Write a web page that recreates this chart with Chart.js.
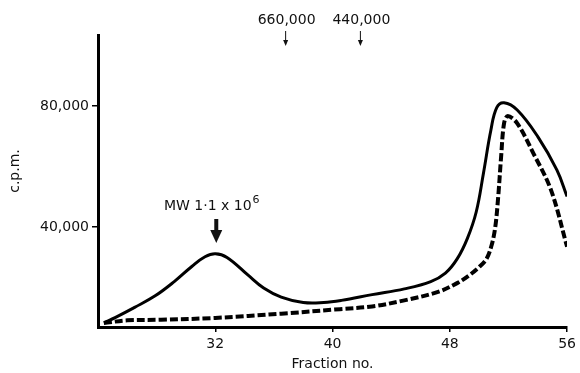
<!DOCTYPE html>
<html>
<head>
<meta charset="utf-8">
<script src="https://cdn.jsdelivr.net/npm/chart.js@4"></script>
<style>
  html, body { margin: 0; padding: 0; background: #fff; }
  #wrap { width: 580px; height: 373px; }
</style>
</head>
<body>
<div id="wrap"><canvas id="chart" width="580" height="373"></canvas></div>
<script>
// ---------- data ----------
const fractionsSolid = [24.4, 25.2, 26.5, 27.9, 29.2, 30.4, 31.3, 32, 32.8, 34.2, 35.3, 36.5, 38, 39.4, 40.6, 42.7, 44.9, 46.7, 47.7, 48.5, 49.2, 49.8, 50.3, 50.8, 51.2, 51.7, 52.6, 54, 55.3, 56];
const cpmSolid       = [8400, 10200, 13500, 17300, 22000, 27000, 30200, 31200, 30000, 24300, 19900, 16900, 15100, 15100, 15800, 17700, 19600, 22000, 24800, 29500, 36300, 45000, 58000, 72000, 79500, 81100, 78700, 69900, 58900, 50100];

const fractionsDashed = [24.4, 26, 28.3, 32, 36.5, 40.5, 42.7, 44.9, 47.2, 48.5, 49.3, 50, 50.5, 50.85, 51.1, 51.3, 51.5, 51.7, 51.95, 52.6, 53.7, 54.9, 56];
const cpmDashed       = [8300, 9200, 9400, 10000, 11400, 12900, 13800, 15800, 18600, 21500, 24000, 26800, 29500, 34000, 40000, 50000, 63300, 74300, 76700, 74300, 64400, 52300, 33500];

const xTickValues = [32, 40, 48, 56];
const yTickValues = [40000, 80000];

const markers = [
  { label: '660,000', fraction: 36.8 },
  { label: '440,000', fraction: 41.9 }
];

// ---------- helpers ----------
const FONT = '"DejaVu Sans", sans-serif';
const toPoints = (xs, ys) => xs.map((x, i) => ({ x: x, y: ys[i] }));

// annotations: MW arrow + marker arrows at top
const annotations = {
  id: 'annotations',
  afterDraw(chart) {
    const ctx = chart.ctx;
    const xs = chart.scales.x;
    ctx.save();
    ctx.fillStyle = '#111';
    ctx.strokeStyle = '#111';
    ctx.font = '14px ' + FONT;
    ctx.textBaseline = 'alphabetic';

    // MW 1·1 x 10^6 with thick arrow
    const px = xs.getPixelForValue(32) + 1;
    const main = 'MW 1\u00B71 x 10';
    const wMain = ctx.measureText(main).width;
    ctx.font = '11px ' + FONT;
    const wSup = ctx.measureText('6').width;
    const x0 = px - (wMain + wSup) / 2 - 5;
    ctx.font = '14px ' + FONT;
    ctx.textAlign = 'left';
    ctx.fillText(main, x0, 210);
    ctx.font = '11px ' + FONT;
    ctx.fillText('6', x0 + wMain + 1, 203);

    ctx.fillRect(px - 2, 219, 4, 13);
    ctx.beginPath();
    ctx.moveTo(px - 6, 230);
    ctx.lineTo(px + 6, 230);
    ctx.lineTo(px, 243);
    ctx.closePath();
    ctx.fill();

    // molecular weight markers
    ctx.font = '14px ' + FONT;
    ctx.textAlign = 'center';
    markers.forEach(m => {
      const mx = xs.getPixelForValue(m.fraction);
      ctx.fillText(m.label, mx + 1, 24);
      ctx.lineWidth = 1;
      ctx.beginPath();
      ctx.moveTo(mx, 31);
      ctx.lineTo(mx, 44);
      ctx.stroke();
      ctx.beginPath();
      ctx.moveTo(mx - 2.5, 40);
      ctx.lineTo(mx + 2.5, 40);
      ctx.lineTo(mx, 46);
      ctx.closePath();
      ctx.fill();
    });

    // y title, drawn a little above the axis centre like the original
    ctx.save();
    ctx.translate(15, 171);
    ctx.rotate(-Math.PI / 2);
    ctx.textAlign = 'center';
    ctx.textBaseline = 'middle';
    ctx.font = '14px ' + FONT;
    ctx.fillText('c.p.m.', 0, 0);
    ctx.restore();

    ctx.restore();
  }
};

// ---------- chart ----------
new Chart(document.getElementById('chart'), {
  type: 'line',
  data: {
    datasets: [
      {
        label: 'solid',
        data: toPoints(fractionsSolid, cpmSolid),
        borderColor: '#000',
        borderWidth: 3,
        pointRadius: 0,
        fill: false,
        tension: 0.4
      },
      {
        label: 'dashed',
        data: toPoints(fractionsDashed, cpmDashed),
        borderColor: '#000',
        borderWidth: 4,
        borderDash: [8, 3],
        pointRadius: 0,
        fill: false,
        tension: 0.35
      }
    ]
  },
  options: {
    responsive: false,
    animation: false,
    layout: { padding: { top: 35, right: 10, left: 0, bottom: 0 } },
    plugins: {
      legend: { display: false },
      tooltip: { enabled: false }
    },
    scales: {
      x: {
        type: 'linear',
        min: 24,
        max: 56,
        afterBuildTicks: (s) => { s.ticks = xTickValues.map(v => ({ value: v })); },
        afterFit: (s) => { s.height = 46; },
        grid: { display: true, drawOnChartArea: false, tickLength: 5, color: '#000', lineWidth: 1.5 },
        border: { display: true, color: '#000', width: 3 },
        ticks: { color: '#111', font: { family: FONT, size: 14 }, padding: 4, autoSkip: false, maxRotation: 0 },
        title: { display: true, text: 'Fraction no.', color: '#111', font: { family: FONT, size: 14 }, padding: { top: 0, bottom: 0 } }
      },
      y: {
        type: 'linear',
        min: 7000,
        max: 103500,
        afterBuildTicks: (s) => { s.ticks = yTickValues.map(v => ({ value: v })); },
        afterFit: (s) => { s.width = 98; },
        grid: { display: true, drawOnChartArea: false, tickLength: 6, color: '#000', lineWidth: 1.5 },
        border: { display: true, color: '#000', width: 3 },
        ticks: {
          color: '#111',
          font: { family: FONT, size: 14 },
          padding: 3,
          autoSkip: false,
          callback: (v) => v.toLocaleString('en-US')
        },
        title: { display: false }
      }
    }
  },
  plugins: [annotations]
});
</script>
</body>
</html>
